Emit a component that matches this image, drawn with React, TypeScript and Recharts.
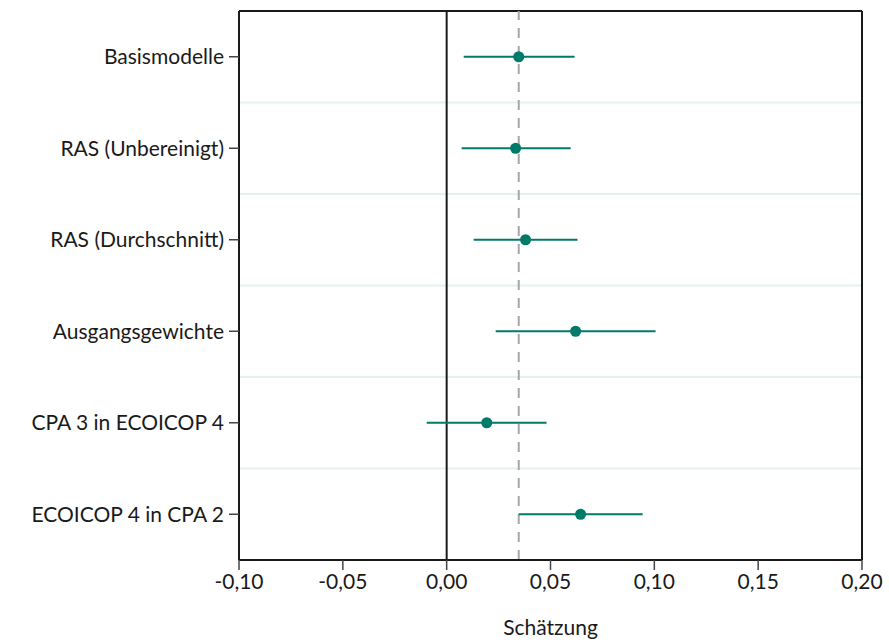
import React from 'react';
import { ComposedChart, Scatter, XAxis, YAxis, ReferenceLine, ErrorBar } from 'recharts';

const categories = [
  'Basismodelle',
  'RAS (Unbereinigt)',
  'RAS (Durchschnitt)',
  'Ausgangsgewichte',
  'CPA 3 in ECOICOP 4',
  'ECOICOP 4 in CPA 2',
];
const estimates = [0.0347, 0.0332, 0.0380, 0.0621, 0.0193, 0.0645];
const lower = [0.0082, 0.0072, 0.0130, 0.0236, -0.0096, 0.0347];
const upper = [0.0616, 0.0597, 0.0630, 0.1006, 0.0481, 0.0944];
const xTicks = [-0.1, -0.05, 0, 0.05, 0.1, 0.15, 0.2];
const referenceValue = 0.0347;

const n = categories.length;
const data = categories.map((name, i) => ({
  name,
  pos: n - i - 0.5,
  est: estimates[i],
  err: [estimates[i] - lower[i], upper[i] - estimates[i]],
}));
const yTicks = data.map((d) => d.pos);
const separators = categories.slice(1).map((_, i) => i + 1);

const FONT = 'Lato, "Noto Sans", sans-serif';
const COLOR = '#007a69';

export default function App() {
  return (
    <div style={{ position: 'absolute', left: 0, top: 0, background: '#fff' }}>
      <ComposedChart
        width={889}
        height={644}
        data={data}
        layout="horizontal"
        margin={{ top: 11, right: 27, bottom: 10, left: 8 }}
      >
        <XAxis
          type="number"
          dataKey="est"
          domain={[-0.1, 0.2]}
          ticks={xTicks}
          tickFormatter={(v: number) => v.toFixed(2).replace('.', ',')}
          stroke="#1a1a1a"
          strokeWidth={2}
          tickSize={10}
          tickMargin={4}
          height={74}
          tick={{ fill: '#1a1a1a', fontSize: 21, fontFamily: FONT }}
          tickLine={{ stroke: '#444', strokeWidth: 1.5 }}
          allowDataOverflow
          label={{ value: 'Schätzung', position: 'insideBottom', offset: -1, fill: '#1a1a1a', fontSize: 21, fontFamily: FONT }}
        />
        <YAxis
          type="number"
          dataKey="pos"
          domain={[0, n]}
          ticks={yTicks}
          tickFormatter={(v: number) => categories[Math.round(n - 0.5 - v)]}
          width={231}
          stroke="#1a1a1a"
          strokeWidth={2}
          tickSize={10}
          tickMargin={5}
          tick={{ fill: '#1a1a1a', fontSize: 21, fontFamily: FONT }}
          tickLine={{ stroke: '#444', strokeWidth: 1.5 }}
          interval={0}
        />
        {separators.map((s) => (
          <ReferenceLine key={s} y={s} stroke="#e6f0ef" strokeWidth={2} />
        ))}
        <ReferenceLine y={n} stroke="#1a1a1a" strokeWidth={2} />
        <ReferenceLine x={0.2} stroke="#1a1a1a" strokeWidth={2} />
        <ReferenceLine x={0} stroke="#1a1a1a" strokeWidth={2} />
        <ReferenceLine x={referenceValue} stroke="#a6a6a6" strokeWidth={2} strokeDasharray="10 8" />
        <Scatter
          dataKey="pos"
          fill={COLOR}
          isAnimationActive={false}
          shape={(p: any) => <circle cx={p.cx} cy={p.cy} r={5.5} fill={COLOR} />}
        >
          <ErrorBar dataKey="err" direction="x" width={0} stroke={COLOR} strokeWidth={2} isAnimationActive={false} />
        </Scatter>
      </ComposedChart>
    </div>
  );
}
